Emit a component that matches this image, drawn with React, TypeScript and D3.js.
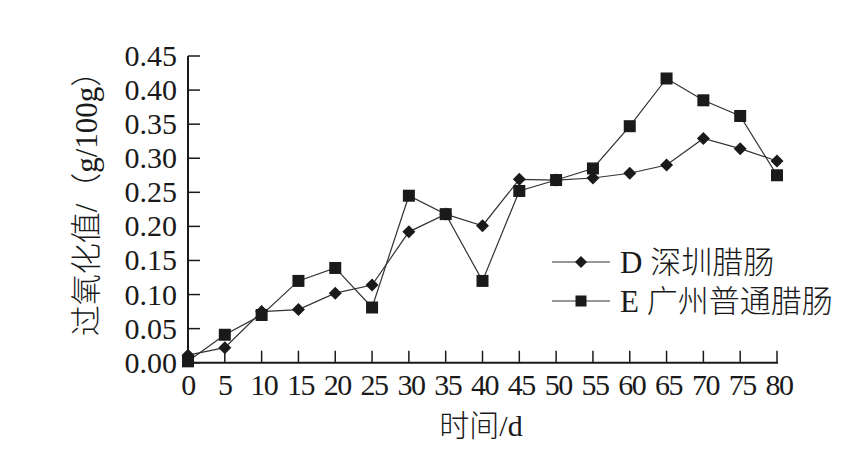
import React from "react";
import * as d3 from "d3";

const days = [0, 5, 10, 15, 20, 25, 30, 35, 40, 45, 50, 55, 60, 65, 70, 75, 80];
const seriesD = [0.011, 0.022, 0.075, 0.078, 0.102, 0.114, 0.192, 0.218, 0.201, 0.269, 0.268, 0.271, 0.278, 0.290, 0.329, 0.314, 0.296];
const seriesE = [0.002, 0.041, 0.070, 0.120, 0.139, 0.081, 0.245, 0.218, 0.120, 0.252, 0.268, 0.285, 0.347, 0.417, 0.385, 0.362, 0.275];
const yTicks = [0, 0.05, 0.1, 0.15, 0.2, 0.25, 0.3, 0.35, 0.4, 0.45];
const xTicks = [0, 5, 10, 15, 20, 25, 30, 35, 40, 45, 50, 55, 60, 65, 70, 75, 80];
const legendD = "D 深圳腊肠";
const legendE = "E 广州普通腊肠";
const yTitle = "过氧化值/（g/100g）";
const xTitle = "时间/d";

const W = 863;
const H = 457;
const FONT = "'Liberation Serif', 'Times New Roman', 'Noto Sans CJK SC', serif";

export default function App() {
  const x = d3.scaleLinear().domain([0, 80]).range([188, 777]);
  const y = d3.scaleLinear().domain([0, 0.45]).range([362.7, 56]);
  const line = d3
    .line<number>()
    .x((_, i) => x(days[i]))
    .y((v) => y(v));
  const ink = "#1a1a1a";
  const lineCol = "#333";
  const diamond = (cx: number, cy: number, r = 6.5) =>
    `M${cx},${cy - r}L${cx + r},${cy}L${cx},${cy + r}L${cx - r},${cy}Z`;
  const sq = 12;

  return (
    <svg
      width={W}
      height={H}
      style={{ position: "absolute", left: 0, top: 0, background: "#fff" }}
      fontFamily={FONT}
    >
      <rect width={W} height={H} fill="#fff" />
      {/* axes */}
      <line x1={x(0)} x2={x(0)} y1={y(0.45)} y2={y(0)} stroke={ink} strokeWidth={2} />
      <line x1={x(0) - 1} x2={x(80) + 1} y1={y(0)} y2={y(0)} stroke={ink} strokeWidth={2} />
      {yTicks.map((t) => (
        <g key={"y" + t}>
          <line x1={x(0)} x2={x(0) + 12} y1={y(t)} y2={y(t)} stroke={ink} strokeWidth={1.5} />
          <text x={177} y={y(t) + 10} textAnchor="end" fontSize={30} fill={ink}>
            {t.toFixed(2)}
          </text>
        </g>
      ))}
      {xTicks.map((t) => (
        <g key={"x" + t}>
          <line x1={x(t)} x2={x(t)} y1={y(0)} y2={y(0) - 12} stroke={ink} strokeWidth={1.5} />
          <text
            x={x(t) + (t >= 10 ? 2 : 0)}
            y={395}
            textAnchor="middle"
            fontSize={30}
            fill={ink}
            letterSpacing={-1.5}
          >
            {t}
          </text>
        </g>
      ))}
      {/* titles */}
      <text x={481} y={436} textAnchor="middle" fontSize={30} fontWeight={300} fill={ink}>
        {xTitle}
      </text>
      <text
        transform={`translate(97,196) rotate(-90)`}
        textAnchor="middle"
        fontSize={31}
        fontWeight={300}
        fill={ink}
      >
        {yTitle}
      </text>
      {/* series */}
      <path d={line(seriesE) || ""} fill="none" stroke={lineCol} strokeWidth={1.2} />
      <path d={line(seriesD) || ""} fill="none" stroke={lineCol} strokeWidth={1.2} />
      {seriesE.map((v, i) => (
        <rect
          key={"e" + i}
          x={x(days[i]) - sq / 2}
          y={y(v) - sq / 2}
          width={sq}
          height={sq}
          fill={ink}
        />
      ))}
      {seriesD.map((v, i) => (
        <path key={"d" + i} d={diamond(x(days[i]), y(v))} fill={ink} />
      ))}
      {/* legend */}
      <line x1={552} x2={610} y1={262} y2={262} stroke={lineCol} strokeWidth={1.2} />
      <path d={diamond(581, 262, 6)} fill={ink} />
      <text x={620} y={273} fontSize={31} fontWeight={300} fill={ink}>
        {legendD}
      </text>
      <line x1={552} x2={610} y1={301} y2={301} stroke={lineCol} strokeWidth={1.2} />
      <rect x={581 - 5.5} y={301 - 5.5} width={11} height={11} fill={ink} />
      <text x={620} y={312} fontSize={31} fontWeight={300} fill={ink}>
        {legendE}
      </text>
    </svg>
  );
}
